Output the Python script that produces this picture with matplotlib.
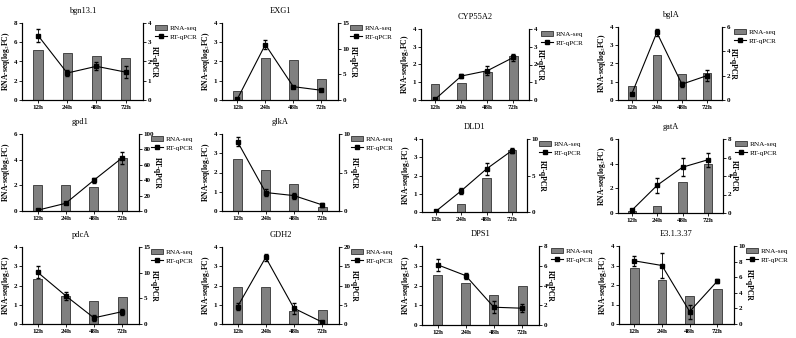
import matplotlib.pyplot as plt
from matplotlib.lines import Line2D
from matplotlib.patches import Patch
import numpy as np

plt.rcParams['font.family'] = ['Liberation Serif', 'DejaVu Serif']
plt.rcParams['mathtext.fontset'] = 'stix'

times = ["12h", "24h", "48h", "72h"]

genes = ["bgn13.1", "EXG1", "CYP55A2", "bglA",
         "gpd1", "glkA", "DLD1", "gatA",
         "pdcA", "GDH2", "DPS1", "E3.1.3.37"]

# RNA-seq log2FC (bars)
rnaseq = [
    [5.2, 4.85, 4.6, 4.35],
    [0.45, 2.2, 2.1, 1.1],
    [0.9, 0.95, 1.6, 2.5],
    [0.75, 2.45, 1.4, 1.5],
    [2.0, 2.0, 1.85, 4.15],
    [2.7, 2.15, 1.42, 0.22],
    [0.02, 0.45, 1.85, 3.4],
    [0.2, 0.55, 2.55, 4.0],
    [2.35, 1.45, 1.2, 1.4],
    [1.9, 1.92, 0.65, 0.72],
    [2.55, 2.15, 1.5, 1.98],
    [2.85, 2.25, 1.45, 1.82],
]

# RT-qPCR values and error
qpcr = [
    [3.35, 1.4, 1.75, 1.45],
    [0.2, 10.8, 2.6, 1.9],
    [0.05, 1.35, 1.65, 2.4],
    [0.5, 5.55, 1.3, 2.0],
    [1.0, 10.0, 40.0, 69.0],
    [9.0, 2.4, 2.0, 0.8],
    [0.1, 2.9, 5.9, 8.4],
    [0.3, 3.0, 4.95, 5.75],
    [10.1, 5.5, 1.2, 2.4],
    [4.5, 17.3, 4.1, 0.5],
    [6.1, 5.0, 1.8, 1.7],
    [8.1, 7.5, 1.6, 5.5],
]
qpcr_err = [
    [0.35, 0.15, 0.2, 0.3],
    [0.1, 0.9, 0.2, 0.1],
    [0.05, 0.1, 0.25, 0.2],
    [0.1, 0.3, 0.2, 0.45],
    [0.5, 1.0, 3.0, 8.0],
    [0.6, 0.4, 0.4, 0.3],
    [0.1, 0.4, 0.8, 0.3],
    [0.1, 0.8, 1.0, 0.75],
    [1.2, 0.8, 0.6, 0.6],
    [0.9, 0.9, 1.4, 0.2],
    [0.6, 0.3, 0.6, 0.4],
    [0.6, 1.6, 0.9, 0.3],
]

left_max = [8, 4, 4, 4, 6, 4, 4, 6, 4, 4, 4, 4]
left_step = [2, 1, 1, 1, 2, 1, 1, 2, 1, 1, 1, 1]
right_max = [4, 15, 4, 6, 100, 10, 10, 8, 15, 20, 8, 10]
right_step = [1, 5, 1, 2, 20, 5, 5, 2, 5, 5, 2, 2]

# axes boxes in pixels: left, right, top, bottom
boxes = [
    (22, 143, 23, 100), (222, 338, 23, 100), (421, 529, 29, 100), (618, 722, 27, 100),
    (22, 139, 134, 211), (222, 339, 134, 211), (422, 527, 139, 212), (618, 723, 139, 213),
    (22, 139, 247, 324), (222, 339, 247, 324), (422, 539, 246, 325), (619, 734, 246, 324),
]

W, H = 796, 338
fig = plt.figure(figsize=(W / 100, H / 100), dpi=100)

handles = [Patch(facecolor="#808080", edgecolor="#333333", linewidth=0.6),
           Line2D([], [], color="black", marker="s", markersize=2.8, linewidth=0.8)]

x = np.arange(len(times))
for i, g in enumerate(genes):
    l, r, t, b = boxes[i]
    ax = fig.add_axes([l / W, 1 - b / H, (r - l) / W, (b - t) / H])
    ax.bar(x, rnaseq[i], width=0.32, color="#808080", edgecolor="#333333",
           linewidth=0.6)
    ax.set_xlim(-0.55, 3.6)
    ax.set_ylim(0, left_max[i])
    ax.set_yticks(np.arange(0, left_max[i] + 0.01, left_step[i]))
    ax.set_xticks(x)
    ax.set_xticklabels(times, fontweight="bold")
    ax.set_ylabel("RNA-seq(log$_2$FC)", fontsize=5.5, fontweight="bold", labelpad=1)
    ax.set_title(g, fontsize=6, pad=7)
    ax.spines["top"].set_visible(False)
    ax.tick_params(labelsize=5, length=2, width=0.6, pad=1.5)
    for s in ax.spines.values():
        s.set_linewidth(0.8)

    ax2 = ax.twinx()
    ax2.errorbar(x, qpcr[i], yerr=qpcr_err[i], color="black", marker="s",
                 markersize=3, linewidth=0.8, elinewidth=0.6, capsize=1.5)
    ax2.set_ylim(0, right_max[i])
    ax2.set_yticks(np.arange(0, right_max[i] + 0.01, right_step[i]))
    ax2.set_ylabel("RT-qPCR", fontsize=5.5, fontweight="bold", rotation=270, labelpad=5)
    ax2.spines["top"].set_visible(False)
    ax2.tick_params(labelsize=5, length=2, width=0.6, pad=1.5)
    for s in ax2.spines.values():
        s.set_linewidth(0.8)
    for lab in ax.get_yticklabels() + ax2.get_yticklabels():
        lab.set_fontweight("bold")

    fig.legend(handles, ["RNA-seq", "RT-qPCR"], loc="upper left",
               bbox_to_anchor=((r + 12) / W, 1 - (t + 2) / H), frameon=False,
               fontsize=5.2, handlelength=1.6, handleheight=0.7, borderaxespad=0,
               borderpad=0, labelspacing=0.4, handletextpad=0.5)

fig.savefig("out.png", dpi=100)
